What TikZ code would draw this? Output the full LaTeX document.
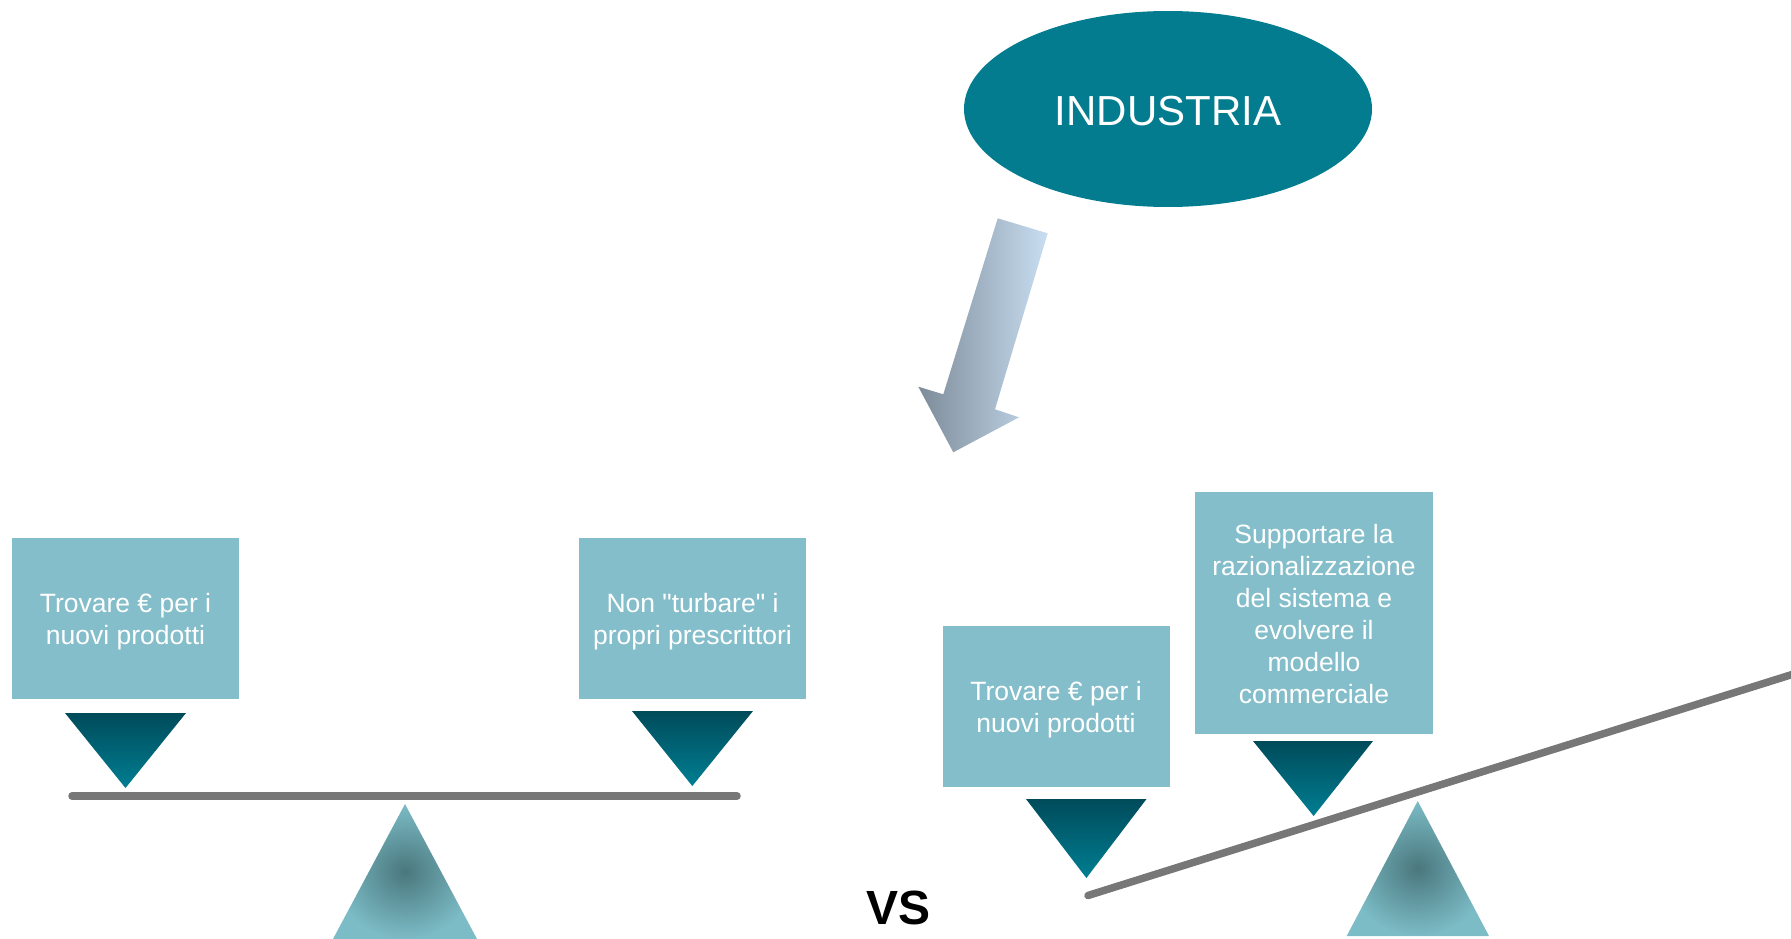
\documentclass[tikz,border=0pt]{standalone}
\usepackage{fontspec}
\setmainfont{Liberation Sans}
\newfontfamily\qfont{Liberation Sans}
\usetikzlibrary{shapes.geometric}
\definecolor{boxc}{HTML}{84BECA}
\definecolor{tealc}{HTML}{027C8E}
\definecolor{tritop}{HTML}{004B5A}
\definecolor{tribot}{HTML}{007E92}
\definecolor{fulin}{HTML}{4A777D}
\definecolor{fulout}{HTML}{7CBCC6}
\definecolor{beamc}{HTML}{777777}
\definecolor{arrl}{HTML}{7D8B99}
\definecolor{arrr}{HTML}{C8DEF1}
\newcommand\ls{\rule[-5.8pt]{0pt}{32pt}}
\tikzset{
  goalbox/.style={fill=boxc, draw=none, inner sep=0pt, minimum width=227pt, minimum height=161pt,
    text=white, align=center, font=\qfont\fontsize{26.5}{32}\selectfont},
  weight/.style={top color=tritop, bottom color=tribot, draw=none},
  fulcrum/.style={inner color=fulin, outer color=fulout, draw=none},
  beam/.style={draw=beamc, line width=7.5pt, line cap=round},
}
\begin{document}
\begin{tikzpicture}[x=1pt,y=-1pt]
\useasboundingbox (0,0) rectangle (1791,939);
% INDUSTRIA
\node[ellipse, fill=tealc, minimum width=408pt, minimum height=196pt, inner sep=0pt,
  text=white, font=\fontsize{42}{50}\selectfont] (ind) at (1168,109) {\raisebox{-16.5pt}[0pt][0pt]{INDUSTRIA}};
% big arrow
\coordinate (a1) at (997.7,218.3);
\coordinate (a2) at (1047.7,233.3);
\coordinate (a3) at (995,409.3);
\coordinate (a4) at (1019,417.3);
\coordinate (a5) at (953.3,452.3);
\coordinate (a6) at (918.3,386.7);
\coordinate (a7) at (943.3,394.3);
\shade[left color=arrl, right color=arrr] (a1) -- (a2) -- (a3) -- (a4) -- (a5) -- (a6) -- (a7) -- cycle;
% left balance
\coordinate (lb1) at (72,796);
\coordinate (lb2) at (737,796);
\draw[beam] (lb1) -- (lb2);
\coordinate (f1a) at (405,804);
\coordinate (f1b) at (333,939);
\coordinate (f1c) at (477,939);
\shade[fulcrum] (f1a) -- (f1c) -- (f1b) -- cycle;
\node[goalbox] (b1) at (125.5,618.5) {\ls Trovare € per i\\\ls nuovi prodotti};
\node[goalbox] (b2) at (692.5,618) {\ls Non "turbare" i\\\ls propri prescrittori};
\coordinate (t1a) at (65,713);
\coordinate (t1b) at (186,713);
\coordinate (t1c) at (125.5,788);
\shade[weight] (t1a) -- (t1b) -- (t1c) -- cycle;
\coordinate (t2a) at (632,711);
\coordinate (t2b) at (753,711);
\coordinate (t2c) at (692.3,786);
\shade[weight] (t2a) -- (t2b) -- (t2c) -- cycle;
% VS
\node[font=\fontsize{48}{56}\bfseries\selectfont, inner sep=0pt, anchor=base] (vs) at (898.5,924) {VS};
% right balance
\coordinate (rb1) at (1088,895.5);
\coordinate (rb2) at (1800,672);
\draw[beam] (rb1) -- (rb2);
\coordinate (f2a) at (1417.7,801);
\coordinate (f2b) at (1346.7,936);
\coordinate (f2c) at (1489,936);
\shade[fulcrum] (f2a) -- (f2c) -- (f2b) -- cycle;
\node[goalbox] (b3) at (1056,706.5) {\ls Trovare € per i\\\ls nuovi prodotti};
\node[goalbox, minimum width=238pt, minimum height=242pt] (b4) at (1314,613)
  {\ls Supportare la\\\ls razionalizzazione\\\ls del sistema e\\\ls evolvere il\\\ls modello\\\ls commerciale};
\coordinate (t3a) at (1026,799);
\coordinate (t3b) at (1146.5,799);
\coordinate (t3c) at (1086.4,878);
\shade[weight] (t3a) -- (t3b) -- (t3c) -- cycle;
\coordinate (t4a) at (1253,741);
\coordinate (t4b) at (1373,741);
\coordinate (t4c) at (1313.6,816);
\shade[weight] (t4a) -- (t4b) -- (t4c) -- cycle;
\end{tikzpicture}
\end{document}
